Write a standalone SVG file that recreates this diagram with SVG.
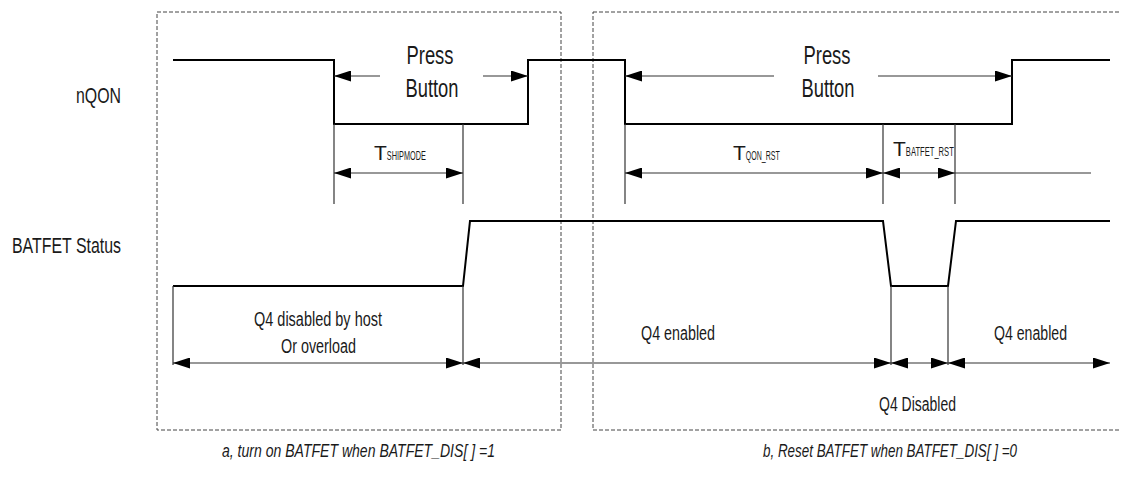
<svg xmlns="http://www.w3.org/2000/svg" width="1121" height="478" viewBox="0 0 1121 478">
<style>
  .frame { fill: none; stroke: #444; stroke-width: 1; stroke-dasharray: 4 2; }
  .wave { fill: none; stroke: #000; stroke-width: 2; stroke-linejoin: miter; }
  .tick { fill: none; stroke: #333; stroke-width: 1.2; }
  .dim { fill: none; stroke: #333; stroke-width: 1.2; }
  .dim2 { fill: none; stroke: #333; stroke-width: 1.2; marker-start: url(#arr); marker-end: url(#arr); }
  .dim1 { fill: none; stroke: #333; stroke-width: 1.2; marker-end: url(#arr); }
  text { font-family: "Liberation Sans Narrow", "Liberation Sans", Arial, sans-serif; fill: #1a1a1a; }
  .lbl { font-size: 22px; }
  .pb { font-size: 25px; text-anchor: middle; }
  .q4 { font-size: 20px; }
  .tt { font-size: 21px; }
  .sub { font-size: 12px; }
  .cap { font-size: 18px; font-style: italic; }
</style>
<defs>
  <marker id="arr" viewBox="0 0 17 11" refX="17" refY="5.5" markerWidth="17" markerHeight="11" markerUnits="userSpaceOnUse" orient="auto-start-reverse">
    <path d="M0,0 L17,5.5 L0,11 Z" fill="#000"/>
  </marker>
</defs>

<g id="frame-a"><rect class="frame" x="157" y="12" width="404" height="418"/></g>
<g id="frame-b"><rect class="frame" x="593" y="12" width="540" height="418"/></g>

<g id="label-nqon"><text class="lbl" x="121" y="103" text-anchor="end" textLength="45" lengthAdjust="spacingAndGlyphs">nQON</text></g>
<g id="label-batfet"><text class="lbl" x="12" y="253" textLength="109" lengthAdjust="spacingAndGlyphs">BATFET Status</text></g>

<g id="wave-nqon"><polyline class="wave" points="173,60 334,60 334,124 528,124 528,60 625,60 625,124 1012,124 1012,60 1110,60"/></g>
<g id="wave-batfet"><polyline class="wave" points="173,286 463,286 470,221 883,221 891,286 948,286 956,221 1110,221"/></g>

<g id="connectors">
  <line class="tick" x1="334" y1="124" x2="334" y2="204"/>
  <line class="tick" x1="463" y1="124" x2="463" y2="204"/>
  <line class="tick" x1="625" y1="124" x2="625" y2="204"/>
  <line class="tick" x1="883" y1="124" x2="883" y2="204"/>
  <line class="tick" x1="955" y1="124" x2="955" y2="204"/>
  <line class="tick" x1="173" y1="286" x2="173" y2="365"/>
  <line class="tick" x1="463" y1="286" x2="463" y2="365"/>
  <line class="tick" x1="891" y1="286" x2="891" y2="365"/>
  <line class="tick" x1="948" y1="286" x2="948" y2="365"/>
  <line class="dim1" x1="380" y1="76" x2="334" y2="76"/>
  <line class="dim1" x1="483" y1="76" x2="528" y2="76"/>
  <line class="dim1" x1="774" y1="76" x2="625" y2="76"/>
  <line class="dim1" x1="878" y1="76" x2="1012" y2="76"/>
  <line class="dim2" x1="334" y1="173" x2="463" y2="173"/>
  <line class="dim2" x1="625" y1="173" x2="883" y2="173"/>
  <line class="dim2" x1="883" y1="173" x2="955" y2="173"/>
  <line class="dim" x1="955" y1="173" x2="1091" y2="173"/>
  <line class="dim2" x1="173" y1="363" x2="463" y2="363"/>
  <line class="dim2" x1="463" y1="363" x2="891" y2="363"/>
  <line class="dim2" x1="891" y1="363" x2="948" y2="363"/>
  <line class="dim2" x1="948" y1="363" x2="1110" y2="363"/>
</g>

<g id="press-a">
  <text class="pb" x="430" y="64" textLength="47" lengthAdjust="spacingAndGlyphs">Press</text>
  <text class="pb" x="432" y="97" textLength="53" lengthAdjust="spacingAndGlyphs">Button</text>
</g>
<g id="press-b">
  <text class="pb" x="827" y="64" textLength="47" lengthAdjust="spacingAndGlyphs">Press</text>
  <text class="pb" x="828" y="97" textLength="53" lengthAdjust="spacingAndGlyphs">Button</text>
</g>

<g id="t-shipmode"><text class="tt" x="374" y="160"><tspan>T</tspan><tspan class="sub" textLength="39" lengthAdjust="spacingAndGlyphs">SHIPMODE</tspan></text></g>
<g id="t-qon-rst"><text class="tt" x="733" y="160"><tspan>T</tspan><tspan class="sub" textLength="34" lengthAdjust="spacingAndGlyphs">QON_RST</tspan></text></g>
<g id="t-batfet-rst"><text class="tt" x="893" y="156"><tspan>T</tspan><tspan class="sub" textLength="48" lengthAdjust="spacingAndGlyphs">BATFET_RST</tspan></text></g>

<g id="q4-host">
  <text class="q4" x="254" y="326" textLength="128" lengthAdjust="spacingAndGlyphs">Q4 disabled by host</text>
  <text class="q4" x="281" y="353" textLength="75" lengthAdjust="spacingAndGlyphs">Or overload</text>
</g>
<g id="q4-enabled-1"><text class="q4" x="641" y="340" textLength="74" lengthAdjust="spacingAndGlyphs">Q4 enabled</text></g>
<g id="q4-enabled-2"><text class="q4" x="994" y="340" textLength="73" lengthAdjust="spacingAndGlyphs">Q4 enabled</text></g>
<g id="q4-disabled"><text class="q4" x="879" y="411" textLength="77" lengthAdjust="spacingAndGlyphs">Q4 Disabled</text></g>

<g id="caption-a"><text class="cap" x="222" y="457" textLength="273" lengthAdjust="spacingAndGlyphs">a, turn on BATFET when BATFET_DIS[ ] =1</text></g>
<g id="caption-b"><text class="cap" x="763" y="457" textLength="254" lengthAdjust="spacingAndGlyphs">b, Reset BATFET when BATFET_DIS[ ] =0</text></g>
</svg>
